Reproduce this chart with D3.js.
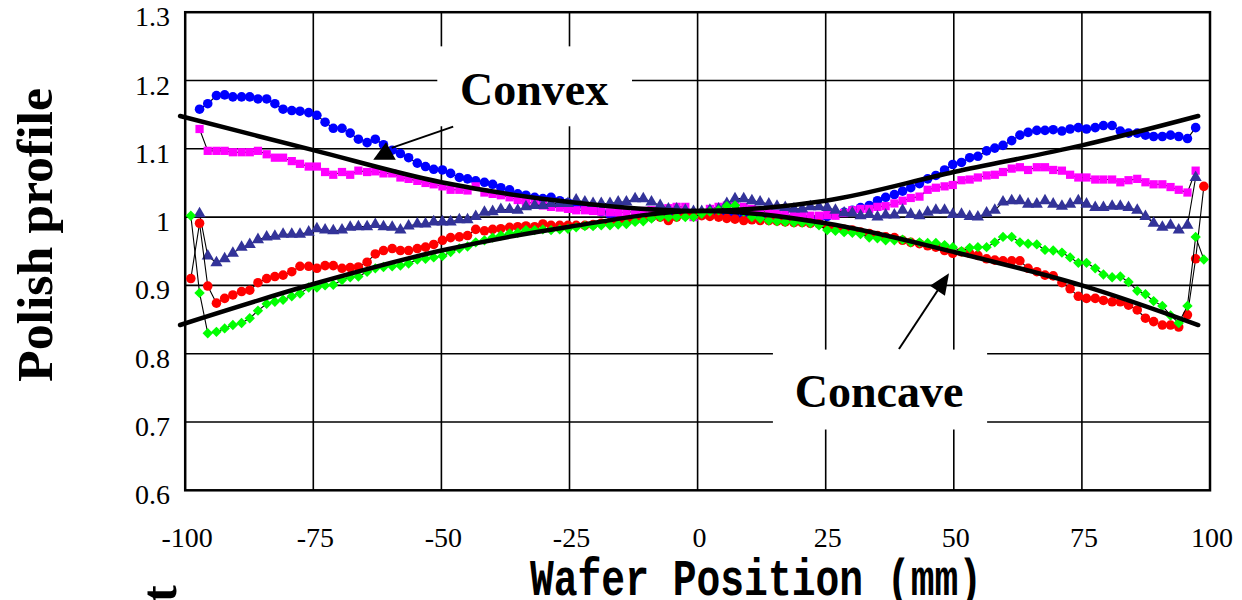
<!DOCTYPE html>
<html><head><meta charset="utf-8">
<script src="https://cdn.jsdelivr.net/npm/d3@7"></script>
<style>html,body{margin:0;padding:0;background:#fff;}svg{display:block;}</style>
</head><body>
<svg id="c" width="1242" height="600"></svg>
<script>
// ---------- data ----------
const positions = [
-97.2,-95.6,-93.9,-92.3,-90.7,-89.0,-87.4,-85.8,-84.1,-82.5,
-80.9,-79.2,-77.6,-75.9,-74.3,-72.7,-71.1,-69.4,-67.8,-66.2,
-64.5,-62.9,-61.3,-59.6,-58.0,-56.4,-54.7,-53.1,-51.5,-49.8,
-48.2,-46.5,-44.9,-43.3,-41.6,-40.0,-38.4,-36.7,-35.1,-33.5,
-31.8,-30.2,-28.6,-26.9,-25.3,-23.7,-22.0,-20.4,-18.8,-17.1,
-15.5,-13.9,-12.2,-10.6,-9.0,-7.3,-5.7,-4.1,-2.4,-0.8,
0.8,2.4,4.1,5.7,7.3,9.0,10.6,12.2,13.9,15.5,
17.1,18.8,20.4,22.0,23.7,25.3,26.9,28.6,30.2,31.8,
33.5,35.1,36.7,38.4,40.0,41.6,43.3,44.9,46.5,48.2,
49.8,51.5,53.1,54.7,56.4,58.0,59.6,61.3,62.9,64.5,
66.2,67.8,69.4,71.1,72.7,74.3,75.9,77.6,79.2,80.9,
82.5,84.1,85.8,87.4,89.0,90.7,92.3,93.9,95.6,97.2];

const blueSeries = [
1.158,1.166,1.178,1.179,1.176,1.176,1.176,1.173,1.173,1.166,
1.158,1.156,1.155,1.153,1.149,1.139,1.130,1.130,1.123,1.114,
1.109,1.114,1.106,1.098,1.093,1.087,1.079,1.074,1.070,1.069,
1.064,1.058,1.056,1.053,1.051,1.048,1.043,1.040,1.034,1.032,
1.029,1.027,1.029,1.024,1.021,1.018,1.015,1.012,1.008,1.004,
0.999,0.997,0.997,0.998,1.000,1.002,1.003,1.004,1.005,1.005,
1.005,1.004,1.003,1.002,1.001,1.000,0.999,0.998,0.997,0.996,
0.994,0.993,0.993,0.995,0.998,1.001,1.004,1.007,1.010,1.014,
1.017,1.024,1.029,1.033,1.038,1.043,1.049,1.056,1.061,1.069,
1.077,1.080,1.087,1.089,1.097,1.101,1.105,1.112,1.120,1.124,
1.127,1.127,1.128,1.126,1.129,1.131,1.129,1.131,1.134,1.134,
1.126,1.123,1.123,1.120,1.118,1.118,1.120,1.118,1.115,1.131];

const magentaSeries = [
1.129,1.097,1.097,1.097,1.095,1.095,1.095,1.097,1.092,1.087,
1.087,1.082,1.078,1.074,1.074,1.066,1.062,1.066,1.062,1.068,
1.066,1.067,1.064,1.064,1.058,1.056,1.053,1.050,1.048,1.045,
1.040,1.040,1.039,1.045,1.036,1.034,1.032,1.029,1.025,1.022,
1.020,1.017,1.015,1.014,1.012,1.010,1.010,1.009,1.008,1.007,
1.007,1.007,1.008,1.009,1.010,1.012,1.013,1.015,1.015,1.000,
1.003,1.012,1.015,1.017,1.020,1.015,1.012,1.010,1.007,1.005,
1.004,1.002,1.002,1.002,1.002,1.003,1.002,1.006,1.010,1.012,
1.012,1.015,1.016,1.020,1.024,1.028,1.030,1.040,1.043,1.045,
1.047,1.054,1.055,1.058,1.061,1.062,1.066,1.071,1.073,1.069,
1.073,1.073,1.069,1.068,1.062,1.058,1.058,1.055,1.055,1.055,
1.051,1.054,1.056,1.051,1.048,1.048,1.044,1.040,1.036,1.068];

const navySeries = [
1.005,0.943,0.933,0.939,0.947,0.956,0.960,0.967,0.971,0.972,
0.975,0.975,0.975,0.978,0.983,0.981,0.980,0.981,0.985,0.986,
0.986,0.989,0.986,0.985,0.981,0.987,0.990,0.990,0.993,0.993,
0.993,0.996,0.996,1.001,1.007,1.008,1.011,1.011,1.010,1.015,
1.017,1.017,1.020,1.020,1.020,1.025,1.022,1.020,1.020,1.020,
1.022,1.022,1.027,1.027,1.022,1.017,1.012,1.012,1.010,1.008,
1.008,1.010,1.012,1.020,1.027,1.027,1.024,1.022,1.019,1.016,
1.014,1.012,1.012,1.015,1.015,1.014,1.010,1.006,1.006,1.002,
1.004,1.000,1.003,1.003,1.010,1.004,1.002,1.007,1.010,1.010,
1.004,1.004,1.001,1.000,1.006,1.010,1.022,1.024,1.024,1.019,
1.019,1.024,1.019,1.016,1.019,1.024,1.019,1.014,1.014,1.016,
1.016,1.014,1.010,1.001,0.991,0.985,0.988,0.981,0.988,1.058];

const redSeries = [
0.991,0.899,0.874,0.881,0.886,0.891,0.893,0.904,0.910,0.913,
0.915,0.920,0.928,0.928,0.925,0.929,0.929,0.925,0.926,0.927,
0.934,0.946,0.951,0.954,0.951,0.951,0.954,0.956,0.960,0.966,
0.970,0.971,0.973,0.982,0.980,0.982,0.983,0.985,0.986,0.987,
0.986,0.990,0.988,0.988,0.988,0.988,0.988,0.989,0.991,0.992,
0.994,0.995,0.996,0.998,1.000,1.000,0.995,1.000,1.002,1.003,
1.002,1.001,1.000,0.998,0.997,0.995,0.996,0.995,0.995,0.994,
0.993,0.992,0.992,0.991,0.990,0.985,0.983,0.982,0.981,0.978,
0.976,0.973,0.971,0.970,0.966,0.963,0.961,0.958,0.956,0.951,
0.947,0.949,0.947,0.944,0.939,0.937,0.936,0.936,0.936,0.925,
0.920,0.915,0.914,0.904,0.895,0.884,0.881,0.881,0.878,0.876,
0.876,0.871,0.864,0.852,0.847,0.842,0.842,0.839,0.857,0.939];

const greenSeries = [
0.889,0.830,0.832,0.837,0.842,0.845,0.852,0.863,0.873,0.876,
0.879,0.884,0.888,0.897,0.897,0.900,0.901,0.908,0.912,0.913,
0.920,0.925,0.927,0.928,0.929,0.932,0.938,0.939,0.941,0.943,
0.949,0.954,0.957,0.963,0.966,0.970,0.973,0.976,0.977,0.981,
0.981,0.982,0.981,0.982,0.983,0.985,0.987,0.987,0.988,0.988,
0.989,0.990,0.993,0.994,0.998,1.000,1.000,1.000,1.000,1.000,
1.005,1.008,1.010,1.016,1.017,1.008,1.000,0.998,0.995,0.994,
0.993,0.992,0.992,0.991,0.988,0.981,0.980,0.978,0.977,0.975,
0.970,0.969,0.966,0.966,0.967,0.963,0.963,0.962,0.962,0.959,
0.956,0.950,0.955,0.956,0.956,0.963,0.971,0.971,0.963,0.961,
0.960,0.952,0.951,0.948,0.941,0.933,0.933,0.925,0.916,0.912,
0.913,0.905,0.892,0.887,0.877,0.870,0.856,0.845,0.870,0.971];

// extra edge readings for red and green (outermost points)
const edgePositions = [-98.9, 98.8];
const redEdge = [0.910, 1.045];
const greenEdge = [1.002, 0.938];

// fitted guide curves
const fitPositions = [-101, -75, -50, -25, 0, 25, 50, 75, 97.7];
const convexFit  = [1.148, 1.098, 1.051, 1.022, 1.009, 1.024, 1.066, 1.105, 1.148];
const concaveFit = [0.842, 0.902, 0.951, 0.986, 1.009, 0.991, 0.949, 0.900, 0.842];

const xTicks = [-100, -75, -50, -25, 0, 25, 50, 75, 100];
const xTickLabels = ["-100","-75","-50","-25","0","25","50","75","100"];
const yTicks = [0.6, 0.7, 0.8, 0.9, 1.0, 1.1, 1.2, 1.3];
const yTickLabels = ["0.6","0.7","0.8","0.9","1","1.1","1.2","1.3"];

// ---------- drawing ----------
const svg = d3.select('#c');
const x = d3.scaleLinear().domain([-100, 100]).range([185.2, 1210]);
const y = d3.scaleLinear().domain([0.6, 1.3]).range([490.3, 12.2]);
const serif = '"Liberation Serif","Times New Roman",serif';

// grid
const grid = svg.append('g');
grid.selectAll('.hg').data(yTicks.slice(1, -1)).join('line')
  .attr('x1', x(-100)).attr('x2', x(100))
  .attr('y1', d => y(d)).attr('y2', d => y(d))
  .attr('stroke', '#000').attr('stroke-width', 1.6);
grid.selectAll('.vg').data(xTicks.slice(1, -1)).join('line')
  .attr('y1', y(0.6)).attr('y2', y(1.3))
  .attr('x1', d => x(d)).attr('x2', d => x(d))
  .attr('stroke', '#000').attr('stroke-width', 1.6);
grid.append('rect')
  .attr('x', x(-100)).attr('y', y(1.3))
  .attr('width', x(100) - x(-100)).attr('height', y(0.6) - y(1.3))
  .attr('fill', 'none').attr('stroke', '#000').attr('stroke-width', 2.5);

// label boxes (cover the grid)
const boxes = [
  {x0: -50.8, x1: -12.8, y0: 1.250, y1: 1.133},
  {x0: 14.7, x1: 56.5, y0: 0.806, y1: 0.689}
];
svg.append('g').selectAll('rect').data(boxes).join('rect')
  .attr('x', d => x(d.x0)).attr('y', d => y(d.y0))
  .attr('width', d => x(d.x1) - x(d.x0)).attr('height', d => y(d.y1) - y(d.y0))
  .attr('fill', '#fff');

// tick labels
svg.append('g').selectAll('text').data(yTicks).join('text')
  .attr('x', 170).attr('y', d => y(d) + 14)
  .attr('text-anchor', 'end').attr('font-family', serif).attr('font-size', 28)
  .text((d, i) => yTickLabels[i]);
svg.append('g').selectAll('text').data(xTicks).join('text')
  .attr('x', d => x(d) + 2).attr('y', 547)
  .attr('text-anchor', 'middle').attr('font-family', serif).attr('font-size', 28)
  .text((d, i) => xTickLabels[i]);

// series
const line = d3.line().x(d => x(d[0])).y(d => y(d[1]));
function drawSeries(xs, ys, color, symType, size, rot) {
  const pts = xs.map((v, i) => [v, ys[i]]);
  const g = svg.append('g');
  g.append('path').attr('d', line(pts)).attr('fill', 'none')
    .attr('stroke', '#000').attr('stroke-width', 1.1);
  const sym = d3.symbol().type(symType).size(size);
  g.selectAll('path.m').data(pts).join('path').attr('class', 'm')
    .attr('d', sym)
    .attr('transform', d => `translate(${x(d[0])},${y(d[1])})` + (rot ? ` rotate(${rot})` : ''))
    .attr('fill', color);
}
const withEdges = (vals, edge) => [edge[0], ...vals, edge[1]];
const edgeXs = [edgePositions[0], ...positions, edgePositions[1]];

drawSeries(positions, blueSeries, '#0000ff', d3.symbolCircle, 72, 0);
drawSeries(positions, magentaSeries, '#ff00ff', d3.symbolSquare, 68, 0);
drawSeries(positions, navySeries, '#333399', d3.symbolTriangle, 64, 0);
drawSeries(edgeXs, withEdges(redSeries, redEdge), '#ff0000', d3.symbolCircle, 72, 0);
drawSeries(edgeXs, withEdges(greenSeries, greenEdge), '#00ff00', d3.symbolSquare, 54, 45);

// fit curves
const fitLine = d3.line().x(d => x(d[0])).y(d => y(d[1])).curve(d3.curveCatmullRom.alpha(0.5));
[convexFit, concaveFit].forEach(arr => {
  svg.append('path').attr('d', fitLine(fitPositions.map((v, i) => [v, arr[i]])))
    .attr('fill', 'none').attr('stroke', '#000').attr('stroke-width', 4.5)
    .attr('stroke-linecap', 'round');
});

// annotations
const ann = svg.append('g');
// Convex arrow
const convexFrom = [-47.7, 1.1324], convexTo = [-59.7, 1.1013];
ann.append('line').attr('x1', x(convexFrom[0])).attr('y1', y(convexFrom[1]))
  .attr('x2', x(convexTo[0])).attr('y2', y(convexTo[1]))
  .attr('stroke', '#000').attr('stroke-width', 2);
const convexHead = [[-60.8, 1.1095], [-63.3, 1.0838], [-58.9, 1.0838]];
ann.append('polygon').attr('points', convexHead.map(p => `${x(p[0])},${y(p[1])}`).join(' '))
  .attr('fill', '#000');
// Concave arrow
const concFrom = [39.3, 0.8069], concTo = [49.07, 0.9178];
const fx = x(concFrom[0]), fy = y(concFrom[1]), tx = x(concTo[0]), ty = y(concTo[1]);
const len = Math.hypot(tx - fx, ty - fy), ux = (tx - fx) / len, uy = (ty - fy) / len;
const hl = 21, hw = 9;
const bx = tx - ux * hl, by = ty - uy * hl;
ann.append('line').attr('x1', fx).attr('y1', fy).attr('x2', bx + ux * 3).attr('y2', by + uy * 3)
  .attr('stroke', '#000').attr('stroke-width', 2);
ann.append('polygon')
  .attr('points', `${tx},${ty} ${bx - uy * hw},${by + ux * hw} ${bx + uy * hw},${by - ux * hw}`)
  .attr('fill', '#000');

ann.append('text').attr('x', x(-31.9)).attr('y', y(1.1645))
  .attr('text-anchor', 'middle').attr('font-family', serif).attr('font-weight', 'bold')
  .attr('font-size', 46).text('Convex');
ann.append('text').attr('x', x(35.4)).attr('y', y(0.7222))
  .attr('text-anchor', 'middle').attr('font-family', serif).attr('font-weight', 'bold')
  .attr('font-size', 46).text('Concave');

// axis titles
svg.append('text').attr('transform', 'translate(52,235) rotate(-90)')
  .attr('text-anchor', 'middle').attr('font-family', serif).attr('font-weight', 'bold')
  .attr('font-size', 50).attr('textLength', 294).attr('lengthAdjust', 'spacingAndGlyphs')
  .text('Polish profile');
svg.append('text').attr('x', 756).attr('y', 595)
  .attr('text-anchor', 'middle').attr('font-family', '"Liberation Mono","DejaVu Sans Mono",monospace')
  .attr('font-weight', 'bold').attr('font-size', 52)
  .attr('textLength', 452).attr('lengthAdjust', 'spacingAndGlyphs')
  .text('Wafer Position (mm)');
// clipped fragment at lower left
svg.append('text').attr('transform', 'translate(176,602) rotate(-90)')
  .attr('font-family', serif).attr('font-weight', 'bold').attr('font-size', 50)
  .text('t');
</script>
</body></html>
